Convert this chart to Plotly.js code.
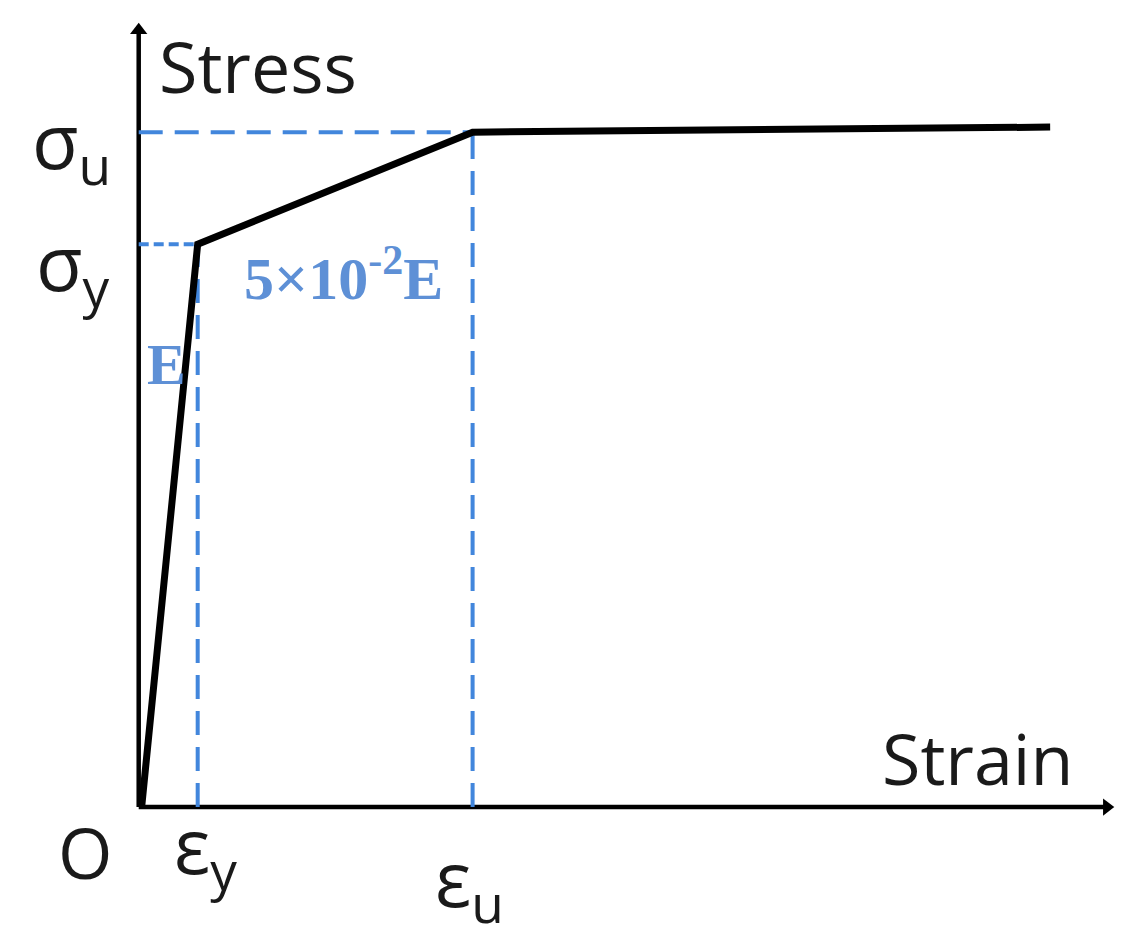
<!DOCTYPE html>
<html>
<head>
<meta charset="utf-8">
<script src="https://cdn.plot.ly/plotly-3.0.1.min.js"></script>
<style>html,body{margin:0;padding:0;background:#fff;}#chart{width:1139px;height:951px;}</style>
</head>
<body>
<div id="chart"></div>
<script>
// Stress-strain curve (normalised: strain in units of eps_y, stress in units of sigma_y)
const strainPts = [0.05, 1.0, 5.66, 15.45];
const stressPts = [0, 1.0, 1.199, 1.208];
const epsY = 1.0, epsU = 5.66;
const sigY = 1.0, sigU = 1.199;
const xAxisEnd = 16.41, yAxisEnd = 1.38;
const xLabels = ["O", "ε<sub>y</sub>", "ε<sub>u</sub>"];
const yLabels = ["σ<sub>u</sub>", "σ<sub>y</sub>"];
const axisNames = ["Stress", "Strain"];
const slopeLabels = ["E", "5×10<sup>-2</sup>E"];

const blue = "#4286dc";
const labelBlue = "#5e90d6";
const sans = "Open Sans, Noto Sans, sans-serif";
const serif = "Liberation Serif, DejaVu Serif, serif";

const traces = [
  // axes
  {x: [0, xAxisEnd], y: [0, 0], mode: "lines", line: {color: "#000", width: 4.5}, hoverinfo: "skip"},
  {x: [0, 0], y: [0, yAxisEnd], mode: "lines", line: {color: "#000", width: 4.5}, hoverinfo: "skip"},
  {x: [xAxisEnd], y: [0], mode: "markers", marker: {symbol: "triangle-right", size: 15, color: "#000"}, cliponaxis: false, hoverinfo: "skip"},
  {x: [0], y: [yAxisEnd], mode: "markers", marker: {symbol: "triangle-up", size: 15, color: "#000"}, cliponaxis: false, hoverinfo: "skip"},
  // guide lines
  {x: [0, epsU], y: [sigU, sigU], mode: "lines", line: {color: blue, width: 4, dash: "24px,12px"}, hoverinfo: "skip"},
  {x: [epsU, epsU], y: [0, sigU], mode: "lines", line: {color: blue, width: 4, dash: "24px,12px"}, hoverinfo: "skip"},
  {x: [0, epsY], y: [sigY, sigY], mode: "lines", line: {color: blue, width: 4, dash: "10px,5px"}, hoverinfo: "skip"},
  {x: [epsY, epsY], y: [0, sigY], mode: "lines", line: {color: blue, width: 4, dash: "24px,12px"}, hoverinfo: "skip"},
  // curve
  {x: strainPts, y: stressPts, mode: "lines", line: {color: "#000", width: 7}, hoverinfo: "skip"}
];

function px(xp) { return (xp - 121) / 997; }
function py(yp) { return (824 - yp) / 805; }
const bigFont = {family: sans, size: 70, color: "#1a1a1a"};
const symFont = {family: sans, size: 76, color: "#1a1a1a"};
const ann = [];
ann.push({xref: "paper", yref: "paper", x: px(258), y: py(66), text: axisNames[0], showarrow: false, font: bigFont, xanchor: "center", yanchor: "middle"});
ann.push({xref: "paper", yref: "paper", x: px(977), y: py(758), text: axisNames[1], showarrow: false, font: bigFont, xanchor: "center", yanchor: "middle"});
ann.push({xref: "paper", yref: "paper", x: px(85), y: py(852), text: xLabels[0], showarrow: false, font: bigFont, xanchor: "center", yanchor: "middle"});
ann.push({xref: "x", yref: "paper", x: epsY, xshift: 8, y: py(849), text: xLabels[1], showarrow: false, font: symFont, xanchor: "center", yanchor: "middle"});
ann.push({xref: "x", yref: "paper", x: epsU, xshift: -3, y: py(882), text: xLabels[2], showarrow: false, font: symFont, xanchor: "center", yanchor: "middle"});
ann.push({xref: "paper", yref: "y", x: px(71), y: sigU, yshift: -12, text: yLabels[0], showarrow: false, font: symFont, xanchor: "center", yanchor: "middle"});
ann.push({xref: "paper", yref: "y", x: px(73), y: sigY, yshift: -22, text: yLabels[1], showarrow: false, font: symFont, xanchor: "center", yanchor: "middle"});
ann.push({xref: "paper", yref: "paper", x: px(145), y: py(364), text: "<b>" + slopeLabels[0] + "</b>", showarrow: false, font: {family: serif, size: 58, color: labelBlue}, xanchor: "left", yanchor: "middle"});
ann.push({xref: "paper", yref: "paper", x: px(343), y: py(274), text: "<b>" + slopeLabels[1] + "</b>", showarrow: false, font: {family: serif, size: 60, color: labelBlue}, xanchor: "center", yanchor: "middle"});

const layout = {
  width: 1139, height: 951,
  margin: {l: 121, r: 21, t: 19, b: 127},
  paper_bgcolor: "#fff", plot_bgcolor: "#fff",
  showlegend: false,
  xaxis: {range: [-0.3, 16.6], showgrid: false, zeroline: false, showticklabels: false, showline: false, ticks: "", fixedrange: true},
  yaxis: {range: [-0.03, 1.4], showgrid: false, zeroline: false, showticklabels: false, showline: false, ticks: "", fixedrange: true},
  annotations: ann
};
Plotly.newPlot("chart", traces, layout, {displayModeBar: false, staticPlot: true});
</script>
</body>
</html>
